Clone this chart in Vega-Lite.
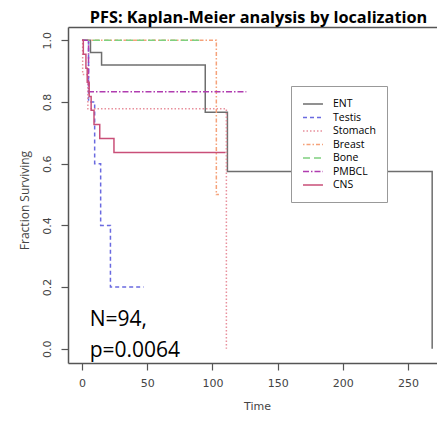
{
  "$schema": "https://vega.github.io/schema/vega-lite/v6.json",
  "width": 369,
  "height": 336,
  "autosize": {"type": "none"},
  "padding": {"left": 68, "top": 27, "right": 0, "bottom": 59},
  "background": "white",
  "title": {"text": "PFS: Kaplan-Meier analysis by localization", "font": "Open Sans", "fontSize": 16.3, "fontWeight": "bold", "color": "black", "anchor": "middle", "dx": 6, "dy": 19, "offset": 4, "baseline": "bottom"},
  "config": {"view": {"stroke": null}},
  "datasets": {
    "km": [
      {"group": "ENT", "t": 0, "s": 1},
      {"group": "ENT", "t": 6.5, "s": 0.96},
      {"group": "ENT", "t": 15, "s": 0.92},
      {"group": "ENT", "t": 94.5, "s": 0.767},
      {"group": "ENT", "t": 111.5, "s": 0.575},
      {"group": "ENT", "t": 268.5, "s": 0},
      {"group": "Testis", "t": 0, "s": 1},
      {"group": "Testis", "t": 5, "s": 0.8},
      {"group": "Testis", "t": 9.7, "s": 0.6},
      {"group": "Testis", "t": 14.3, "s": 0.4},
      {"group": "Testis", "t": 21.8, "s": 0.2},
      {"group": "Testis", "t": 47.3, "s": 0.2},
      {"group": "Stomach", "t": 0, "s": 1},
      {"group": "Stomach", "t": 0.5, "s": 0.889},
      {"group": "Stomach", "t": 4.5, "s": 0.778},
      {"group": "Stomach", "t": 110.7, "s": 0},
      {"group": "Breast", "t": 0, "s": 1},
      {"group": "Breast", "t": 103, "s": 0.5},
      {"group": "Breast", "t": 105, "s": 0.5},
      {"group": "Bone", "t": 0, "s": 1},
      {"group": "Bone", "t": 91.5, "s": 1},
      {"group": "PMBCL", "t": 0, "s": 1},
      {"group": "PMBCL", "t": 5, "s": 0.833},
      {"group": "PMBCL", "t": 126, "s": 0.833},
      {"group": "CNS", "t": 0, "s": 1},
      {"group": "CNS", "t": 1, "s": 0.955},
      {"group": "CNS", "t": 3, "s": 0.909},
      {"group": "CNS", "t": 4, "s": 0.864},
      {"group": "CNS", "t": 5.5, "s": 0.818},
      {"group": "CNS", "t": 7, "s": 0.773},
      {"group": "CNS", "t": 9.2, "s": 0.727},
      {"group": "CNS", "t": 13.6, "s": 0.682},
      {"group": "CNS", "t": 24.5, "s": 0.636},
      {"group": "CNS", "t": 110, "s": 0.636}
    ],
    "notes": [
      {"x": 5.9, "y": 0.074, "label": "N=94,"},
      {"x": 5.9, "y": -0.028, "label": "p=0.0064"}
    ]
  },
  "layer": [
    {
      "data": {"name": "km"},
      "mark": {"type": "line", "interpolate": "step-after", "strokeWidth": 1.5},
      "encoding": {
        "x": {
          "field": "t", "type": "quantitative",
          "scale": {"domain": [-10.74, 272.2], "nice": false, "zero": false},
          "axis": {
            "orient": "bottom", "values": [0, 50, 100, 150, 200, 250], "grid": false,
            "tickSize": 7, "tickColor": "#555", "tickWidth": 1.2,
            "domainColor": "#555", "domainWidth": 1.5,
            "labelFont": "DejaVu Sans", "labelFontSize": 11, "labelColor": "#444", "labelPadding": 7,
            "title": "Time", "titleFont": "DejaVu Sans", "titleFontSize": 11, "titleFontWeight": "normal", "titleColor": "#444",
            "titlePadding": 12, "titleX": 189
          }
        },
        "y": {
          "field": "s", "type": "quantitative",
          "scale": {"domain": [-0.046, 1.043], "nice": false, "zero": false},
          "axis": {
            "values": [0, 0.2, 0.4, 0.6, 0.8, 1.0], "format": ".1f", "grid": false,
            "tickSize": 7, "tickColor": "#555", "tickWidth": 1.2,
            "domainColor": "#555", "domainWidth": 1.5,
            "labelFont": "DejaVu Sans", "labelFontSize": 11, "labelColor": "#444", "labelAngle": 270, "labelPadding": 9,
            "labelAlign": "center", "labelBaseline": "bottom",
            "title": "Fraction Surviving", "titleFont": "Open Sans", "titleFontSize": 12, "titleFontWeight": "normal", "titleColor": "#444",
            "titlePadding": 10, "titleY": 173
          }
        },
        "color": {
          "field": "group", "type": "nominal",
          "scale": {"domain": ["ENT", "Testis", "Stomach", "Breast", "Bone", "PMBCL", "CNS"],
                    "range": ["#6e6e6e", "#6a6ae0", "#e8909c", "#f5a27a", "#7fd07f", "#b03cb0", "#c94f78"]},
          "legend": {
            "orient": "none", "legendX": 223, "legendY": 59, "title": null,
            "fillColor": "white", "strokeColor": "#999", "padding": 11,
            "symbolType": "M-1,0H2.33", "symbolSize": 144, "symbolStrokeWidth": 1.5,
            "labelFont": "Open Sans", "labelFontSize": 10.5, "labelColor": "black", "labelOffset": 17,
            "rowPadding": 0.5
          }
        },
        "strokeDash": {
          "field": "group", "type": "nominal",
          "scale": {"domain": ["ENT", "Testis", "Stomach", "Breast", "Bone", "PMBCL", "CNS"],
                    "range": [[1, 0], [4, 3], [1.5, 2], [1.5, 2, 4, 2], [7, 4], [6, 2, 1.5, 2], [1, 0]]},
          "legend": {
            "orient": "none", "legendX": 223, "legendY": 59, "title": null,
            "fillColor": "white", "strokeColor": "#999", "padding": 11,
            "symbolType": "M-1,0H2.33", "symbolSize": 144, "symbolStrokeWidth": 1.5,
            "labelFont": "Open Sans", "labelFontSize": 10.5, "labelColor": "black", "labelOffset": 17,
            "rowPadding": 0.5
          }
        }
      }
    },
    {
      "data": {"name": "notes"},
      "mark": {"type": "text", "align": "left", "baseline": "alphabetic", "font": "Open Sans", "fontSize": 21, "color": "black"},
      "encoding": {
        "x": {
          "field": "x", "type": "quantitative",
          "axis": {"orient": "top", "labels": false, "ticks": false, "title": null, "grid": false, "domain": true, "domainColor": "#555", "domainWidth": 1.5}
        },
        "y": {"field": "y", "type": "quantitative"},
        "text": {"field": "label"}
      }
    }
  ],
  "resolve": {"axis": {"x": "independent"}}
}
